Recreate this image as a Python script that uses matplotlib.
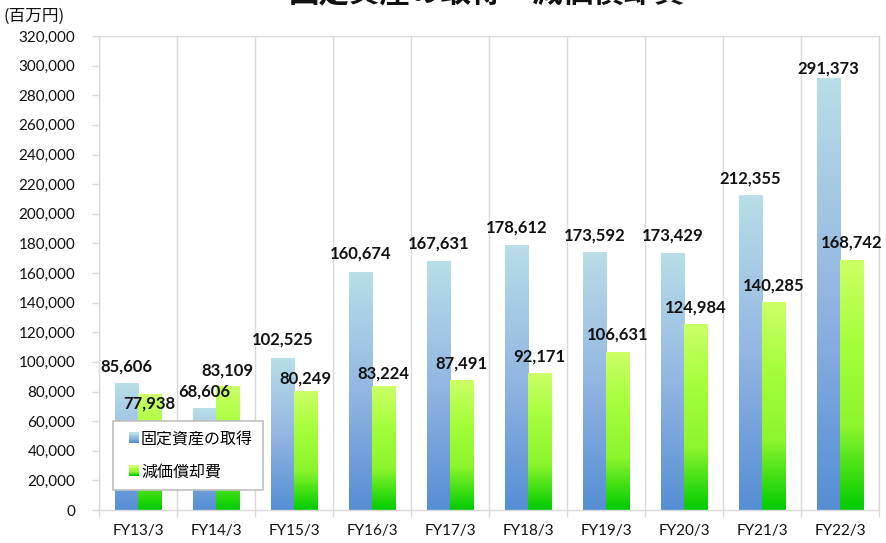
import numpy as np
import matplotlib
matplotlib.use("Agg")
import matplotlib.pyplot as plt
from matplotlib.colors import LinearSegmentedColormap
from matplotlib.patches import Rectangle
from matplotlib.legend_handler import HandlerBase

plt.rcParams['font.family'] = ['Lato', 'Noto Sans CJK JP', 'DejaVu Sans']

# ---- data ----
categories = ["FY13/3", "FY14/3", "FY15/3", "FY16/3", "FY17/3",
              "FY18/3", "FY19/3", "FY20/3", "FY21/3", "FY22/3"]
acquisition = [85606, 68606, 102525, 160674, 167631, 178612, 173592, 173429, 212355, 291373]
depreciation = [77938, 83109, 80249, 83224, 87491, 92171, 106631, 124984, 140285, 168742]
series_names = ["固定資産の取得", "減価償却費"]
title = "固定資産の取得・減価償却費"
unit_label = "(百万円)"
yticks = list(range(0, 320001, 20000))

# label offsets (pixels above bar top) - style
off_acq = [17, 17, 18.5, 18, 18, 17.5, 17.5, 18, 17, 10]
off_dep = [-9, 16, 13, 13, 17, 17, 18, 17, 17, 18]

blue_cmap = LinearSegmentedColormap.from_list("b", ["#b8dee8", "#93b6e2", "#558ed5"])
green_cmap = LinearSegmentedColormap.from_list("g", ["#ccff66", "#a4ff3a", "#8cf52c", "#00cc00"])

fig = plt.figure(figsize=(8.87, 5.43), dpi=100)
ax = fig.add_axes([99/887, 33/543, 780/887, 474/543])

x = np.arange(len(categories))
w = 0.295
grad = np.linspace(0, 1, 256)

def draw_grad_bars(xpos, vals, cmap):
    bars = ax.bar(xpos, vals, width=w, color='none', edgecolor='none', zorder=2)
    img = cmap(grad)[:, None, :]
    for b in bars:
        x0 = b.get_x(); h = b.get_height()
        ax.imshow(img, extent=(x0, x0 + b.get_width(), 0, h), origin='upper',
                  aspect='auto', zorder=2, interpolation='bilinear')
    return bars

b1 = draw_grad_bars(x - w/2, acquisition, blue_cmap)
b2 = draw_grad_bars(x + w/2, depreciation, green_cmap)

for xi, v, o in zip(x - w/2, acquisition, off_acq):
    ax.annotate(f"{v:,}", xy=(xi, v), xytext=(0, o*0.72), textcoords='offset points',
                ha='center', va='center', fontsize=12, fontweight='bold', color='#111111', zorder=5)
for xi, v, o in zip(x + w/2, depreciation, off_dep):
    ax.annotate(f"{v:,}", xy=(xi, v), xytext=(0, o*0.72), textcoords='offset points',
                ha='center', va='center', fontsize=12, fontweight='bold', color='#111111', zorder=5)

ax.set_xlim(-0.5, len(categories) - 0.5)
ax.set_ylim(0, 320000)
ax.set_yticks(yticks)
ax.set_yticklabels([f"{t:,}" for t in yticks])
ax.set_xticks(x)
ax.set_xticklabels(categories)
ax.set_xticks(np.arange(-0.5, len(categories)), minor=True)
ax.tick_params(axis='x', which='major', length=0, pad=10, labelsize=11, colors='#111111')
ax.tick_params(axis='x', which='minor', length=5, color='#d9d9d9', width=1)
ax.tick_params(axis='y', length=5, color='#d9d9d9', width=1, pad=12, labelsize=11, labelcolor='#111111')
ax.grid(axis='x', which='minor', color='#d9d9d9', linewidth=1, zorder=0)
ax.set_axisbelow(True)
for s in ['left', 'bottom', 'top', 'right']:
    ax.spines[s].set_color('#d9d9d9')
    ax.spines[s].set_linewidth(1)

# legend with gradient handles
class GradHandler(HandlerBase):
    def __init__(self, cmap):
        super().__init__()
        self.cmap = cmap
    def create_artists(self, legend, orig_handle, xdescent, ydescent, width, height, fontsize, trans):
        n = 12
        size = 0.62 * fontsize
        x0 = -xdescent + width - size
        y0 = -ydescent + (height - size) / 2
        arts = []
        for i in range(n):
            c = self.cmap((n - 1 - i) / (n - 1))
            arts.append(Rectangle((x0, y0 + i * size / n), size, size / n + 0.3,
                                  facecolor=c, edgecolor='none', transform=trans))
        return arts

h1 = Rectangle((0, 0), 1, 1)
h2 = Rectangle((0, 0), 1, 1)
leg = ax.legend([h1, h2], series_names, loc='lower left', bbox_to_anchor=(14/780, 20/474),
                borderaxespad=0, frameon=True, fancybox=False, edgecolor='#bfbfbf',
                framealpha=1, fontsize=11.5, labelspacing=1.0, handlelength=1.0,
                handletextpad=0.15, borderpad=0.6,
                handler_map={h1: GradHandler(blue_cmap), h2: GradHandler(green_cmap)},
                prop={'family': ['Noto Sans CJK JP'], 'size': 11.5})
leg.set_zorder(6)
leg.get_frame().set_linewidth(1.2)

fig.text(4/887, 1 - 16/543, unit_label, ha='left', va='center', fontsize=12,
         family=['Noto Sans CJK JP'], color='#111111')
fig.text(487/887, 1 + 8/543, title, ha='center', va='center', fontsize=22, fontweight='bold',
         family=['Noto Sans CJK JP'], color='#111111')

fig.savefig("out.png", dpi=100)
